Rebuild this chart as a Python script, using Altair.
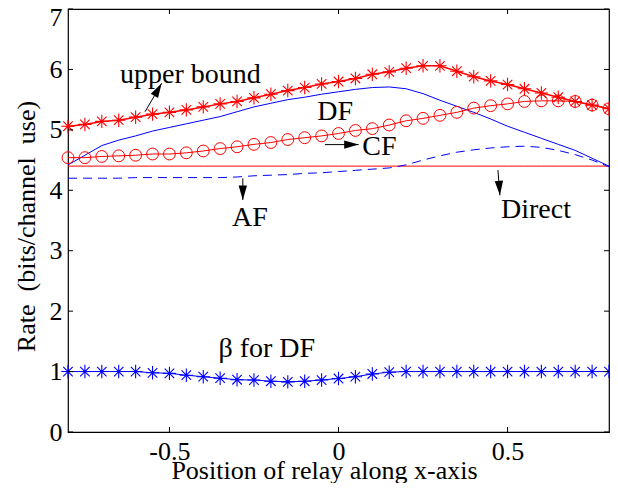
import altair as alt
import pandas as pd

FONT = "Liberation Serif, Times New Roman, Times, serif"

positions = [-0.8, -0.75, -0.7, -0.65, -0.6, -0.55, -0.5, -0.45, -0.4, -0.35, -0.3,
             -0.25, -0.2, -0.15, -0.1, -0.05, 0.0, 0.05, 0.1, 0.15, 0.2, 0.25,
             0.3, 0.35, 0.4, 0.45, 0.5, 0.55, 0.6, 0.65, 0.7, 0.75, 0.8]

upper_bound = [5.06, 5.09, 5.14, 5.16, 5.21, 5.26, 5.29, 5.33, 5.38, 5.43, 5.47,
               5.53, 5.59, 5.65, 5.70, 5.76, 5.80, 5.85, 5.92, 5.96, 6.02, 6.06,
               6.06, 5.97, 5.88, 5.81, 5.75, 5.68, 5.61, 5.54, 5.47, 5.41, 5.35]

df_rate = [4.42, 4.58, 4.74, 4.83, 4.90, 4.98, 5.04, 5.10, 5.16, 5.22, 5.30,
           5.38, 5.44, 5.50, 5.54, 5.59, 5.63, 5.67, 5.70, 5.71, 5.68, 5.60,
           5.49, 5.39, 5.29, 5.18, 5.06, 4.96, 4.86, 4.76, 4.66, 4.53, 4.40]

cf_rate = [4.54, 4.54, 4.56, 4.57, 4.58, 4.60, 4.60, 4.62, 4.65, 4.69, 4.72,
           4.76, 4.79, 4.84, 4.87, 4.90, 4.94, 4.99, 5.02, 5.08, 5.15, 5.19,
           5.24, 5.29, 5.36, 5.40, 5.43, 5.47, 5.48, 5.48, 5.47, 5.41, 5.35]

af_rate = [4.20, 4.20, 4.20, 4.20, 4.21, 4.21, 4.21, 4.21, 4.21, 4.21, 4.22,
           4.24, 4.25, 4.26, 4.28, 4.29, 4.31, 4.33, 4.35, 4.37, 4.42, 4.50,
           4.57, 4.63, 4.67, 4.70, 4.72, 4.73, 4.71, 4.66, 4.59, 4.50, 4.39]

direct_rate = [4.40, 4.40, 4.40, 4.40, 4.40, 4.40, 4.40, 4.40, 4.40, 4.40, 4.40,
               4.40, 4.40, 4.40, 4.40, 4.40, 4.40, 4.40, 4.40, 4.40, 4.40, 4.40,
               4.40, 4.40, 4.40, 4.40, 4.40, 4.40, 4.40, 4.40, 4.40, 4.40, 4.40]

beta_df = [1.00, 1.00, 1.00, 1.00, 1.00, 0.98, 0.97, 0.94, 0.915, 0.89, 0.865,
           0.86, 0.84, 0.83, 0.84, 0.86, 0.885, 0.915, 0.96, 0.99, 1.00, 1.00,
           1.00, 1.00, 1.00, 1.00, 1.00, 1.00, 1.00, 1.00, 1.00, 1.00, 1.00]

x_ticks = [-0.5, 0, 0.5]
y_ticks = [0, 1, 2, 3, 4, 5, 6, 7]

# annotation texts (centre x, baseline y in data units)
ann_labels = ["upper bound", "DF", "CF", "AF", "Direct", "\u03b2 for DF"]
ann_x = [-0.438, -0.010, 0.121, -0.262, 0.584, -0.212]
ann_y = [5.78, 5.163, 4.589, 3.409, 3.543, 1.246]

# arrows (tail -> tip)
arrow_x = [-0.572, -0.040, -0.283, 0.4715]
arrow_y = [5.30, 4.756, 4.198, 4.336]
arrow_x2 = [-0.523, 0.0597, -0.283, 0.4774]
arrow_y2 = [5.77, 4.756, 3.839, 3.917]
arrow_ang = [30, 90, 180, 176]

W, H = 541, 423

STAR = "M0,-1L0,1M-1,0L1,0M-0.71,-0.71L0.71,0.71M-0.71,0.71L0.71,-0.71"
HEAD = "M0,0L0.42,1.45L-0.42,1.45Z"

xscale = alt.Scale(domain=[-0.8, 0.8], nice=False, zero=False)
yscale = alt.Scale(domain=[0, 7], nice=False, zero=False)

xaxis = alt.Axis(values=x_ticks, labelExpr="'' + datum.value", ticks=False, tickSize=0,
                 domain=False, grid=False, labelPadding=6, labelFont=FONT, labelFontSize=26,
                 labelColor="black", labelFlush=False, labelOverlap=False,
                 title="Position of relay along x-axis", titleFont=FONT, titleFontSize=26,
                 titleFontWeight="normal", titleColor="black", titleBaseline="alphabetic",
                 titleY=46, titleX=256)
yaxis = alt.Axis(values=y_ticks, ticks=False, tickSize=0, domain=False, grid=False,
                 labelPadding=6, labelFont=FONT, labelFontSize=26, labelColor="black",
                 labelFlush=False, labelOverlap=False,
                 labelOffset={"condition": {"test": "datum.value === 7", "value": 8}, "value": 0},
                 title="Rate\u00a0 (bits/channel\u00a0 use)", titleFont=FONT, titleFontSize=26,
                 titleFontWeight="normal", titleColor="black", titleBaseline="middle",
                 titleX=-41.5, titleY=217)

X = alt.X("x:Q", scale=xscale, axis=xaxis)
Y = alt.Y("y:Q", scale=yscale, axis=yaxis)


def series(vals):
    return pd.DataFrame({"x": positions, "y": vals})


d_ub = series(upper_bound)
d_df = series(df_rate)
d_cf = series(cf_rate)
d_af = series(af_rate)
d_dir = series(direct_rate)
d_beta = series(beta_df)

layers = []
layers.append(alt.Chart(d_dir).mark_line(color="#ff0000", strokeWidth=1).encode(x=X, y=Y))
layers.append(alt.Chart(d_df).mark_line(color="#0000ff", strokeWidth=1).encode(x=X, y=Y))
layers.append(alt.Chart(d_af).mark_line(color="#0000ff", strokeWidth=1, strokeDash=[9, 6]).encode(x=X, y=Y))
layers.append(alt.Chart(d_cf).mark_line(color="#ff0000", strokeWidth=1).encode(x=X, y=Y))
layers.append(alt.Chart(d_cf).mark_point(shape="circle", size=140, color="#ff0000", filled=False,
                                         strokeWidth=1, opacity=1).encode(x=X, y=Y))
layers.append(alt.Chart(d_ub).mark_line(color="#ff0000", strokeWidth=1.5).encode(x=X, y=Y))
layers.append(alt.Chart(d_ub).mark_point(shape=STAR, size=180, color="#ff0000", filled=False,
                                         strokeWidth=1.1, opacity=1).encode(x=X, y=Y))
layers.append(alt.Chart(d_beta).mark_line(color="#0000ff", strokeWidth=1).encode(x=X, y=Y))
layers.append(alt.Chart(d_beta).mark_point(shape=STAR, size=180, color="#0000ff", filled=False,
                                           strokeWidth=1.1, opacity=1).encode(x=X, y=Y))

# inward ticks on all four sides
d_xt = pd.DataFrame({"x": x_ticks})
d_yt = pd.DataFrame({"y": y_ticks})
layers.append(alt.Chart(d_xt).mark_rule(color="black", strokeWidth=1).encode(
    x=X, y=alt.value(H), y2=alt.value(H - 5)))
layers.append(alt.Chart(d_xt).mark_rule(color="black", strokeWidth=1).encode(
    x=X, y=alt.value(0), y2=alt.value(5)))
layers.append(alt.Chart(d_yt).mark_rule(color="black", strokeWidth=1).encode(
    y=Y, x=alt.value(0), x2=alt.value(5)))
layers.append(alt.Chart(d_yt).mark_rule(color="black", strokeWidth=1).encode(
    y=Y, x=alt.value(W), x2=alt.value(W - 5)))

# annotations
d_ann = pd.DataFrame({"x": ann_x, "y": ann_y, "label": ann_labels})
layers.append(alt.Chart(d_ann).mark_text(font=FONT, fontSize=28, color="black", align="center",
                                         baseline="alphabetic").encode(x=X, y=Y, text="label:N"))

d_arr = pd.DataFrame({"x": arrow_x, "y": arrow_y, "x2": arrow_x2, "y2": arrow_y2, "ang": arrow_ang})
layers.append(alt.Chart(d_arr).mark_rule(color="black", strokeWidth=1).encode(
    x=X, y=Y, x2="x2:Q", y2="y2:Q"))
layers.append(alt.Chart(d_arr).mark_point(shape=HEAD, size=400, filled=True, color="black",
                                          strokeWidth=0, opacity=1).encode(
    x=alt.X("x2:Q", scale=xscale, axis=xaxis),
    y=alt.Y("y2:Q", scale=yscale, axis=yaxis),
    angle=alt.Angle("ang:Q", scale=None)))

chart = alt.layer(*layers).properties(
    width=W, height=H,
    autosize=alt.AutoSizeParams(type="none"),
    padding={"left": 60, "top": 1, "right": 1, "bottom": 51},
).configure_view(stroke="black", strokeWidth=1.2)

chart.save("out.html", embed_options={"renderer": "svg", "actions": False})
